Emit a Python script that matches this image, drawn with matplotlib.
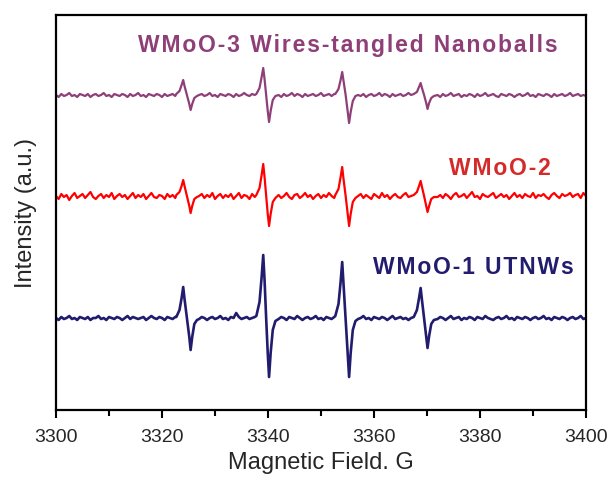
import matplotlib
matplotlib.use("Agg")
import matplotlib.pyplot as plt
from matplotlib.ticker import MultipleLocator

# Field axis (G), shared by all three spectra: baseline stretches plus
# denser points through each of the four hyperfine lines
FIELD = (
    [3300, 3300.5, 3301, 3301.5, 3302, 3302.5, 3303, 3303.5, 3304, 3304.5,
     3305, 3305.5, 3306, 3306.5, 3307, 3307.5, 3308, 3308.5, 3309, 3309.5,
     3310, 3310.5, 3311, 3311.5, 3312, 3312.5, 3313, 3313.5, 3314, 3314.5,
     3315, 3315.5, 3316, 3316.5, 3317, 3317.5, 3318, 3318.5, 3319, 3319.5,
     3320, 3320.5, 3321, 3321.5, 3322, 3322.5]
    + [3322.7, 3323.3, 3323.7, 3324.0, 3324.25, 3324.7, 3325.15, 3325.4,
       3325.7, 3326.1, 3326.6]
    + [3327, 3327.5, 3328, 3328.5, 3329, 3329.5, 3330, 3330.5, 3331, 3331.5,
       3332, 3332.5, 3333, 3333.5, 3334, 3334.5, 3335, 3335.5, 3336, 3336.5,
       3337, 3337.5]
    + [3337.8, 3338.4, 3338.8, 3339.1, 3339.35, 3339.65, 3339.95, 3340.2,
       3340.5, 3340.9, 3341.4]
    + [3342, 3342.5, 3343, 3343.5, 3344, 3344.5, 3345, 3345.5, 3346, 3346.5,
       3347, 3347.5, 3348, 3348.5, 3349, 3349.5, 3350, 3350.5, 3351, 3351.5,
       3352, 3352.5]
    + [3352.7, 3353.3, 3353.7, 3354.0, 3354.25, 3354.65, 3355.05, 3355.3,
       3355.6, 3356.0, 3356.5]
    + [3357, 3357.5, 3358, 3358.5, 3359, 3359.5, 3360, 3360.5, 3361, 3361.5,
       3362, 3362.5, 3363, 3363.5, 3364, 3364.5, 3365, 3365.5, 3366, 3366.5,
       3367]
    + [3367.5, 3368.1, 3368.5, 3368.8, 3369.05, 3369.45, 3369.85, 3370.1,
       3370.4, 3370.8, 3371.3]
    + [3372, 3372.5, 3373, 3373.5, 3374, 3374.5, 3375, 3375.5, 3376, 3376.5,
       3377, 3377.5, 3378, 3378.5, 3379, 3379.5, 3380, 3380.5, 3381, 3381.5,
       3382, 3382.5, 3383, 3383.5, 3384, 3384.5, 3385, 3385.5, 3386, 3386.5,
       3387, 3387.5, 3388, 3388.5, 3389, 3389.5, 3390, 3390.5, 3391, 3391.5,
       3392, 3392.5, 3393, 3393.5, 3394, 3394.5, 3395, 3395.5, 3396, 3396.5,
       3397, 3397.5, 3398, 3398.5, 3399, 3399.5, 3400]
)

# WMoO-1 UTNWs (stacked, arbitrary units)
WMOO1 = (
    [92, 90, 93, 91, 92, 94, 91, 92, 90, 93, 92, 91, 93, 90, 92, 92, 94, 91,
     92, 90, 93, 92, 91, 93, 92, 90, 92, 94, 91, 93, 92, 91, 92, 93, 90, 92,
     94, 92, 91, 93, 92, 90, 93, 92, 91, 93]
    + [93, 100, 112, 123, 111, 92, 73, 60, 73, 86, 90]
    + [91, 93, 92, 90, 92, 93, 91, 92, 94, 91, 92, 90, 93, 92, 97, 93, 91, 92,
       93, 91, 92, 93]
    + [94, 108, 133, 155, 130, 92, 57, 33, 57, 80, 89]
    + [91, 93, 92, 90, 93, 92, 91, 94, 92, 90, 92, 93, 91, 92, 94, 91, 92, 90,
       93, 92, 91, 93]
    + [94, 106, 128, 148, 126, 92, 57, 33, 57, 80, 89]
    + [91, 92, 94, 91, 92, 90, 93, 92, 91, 93, 92, 90, 92, 94, 91, 92, 93, 91,
       92, 90, 92]
    + [93, 100, 112, 122, 110, 92, 74, 62, 74, 86, 90]
    + [91, 93, 92, 90, 92, 94, 91, 92, 93, 90, 92, 91, 93, 92, 90, 93, 92, 91,
       94, 92, 91, 90, 92, 93, 91, 92, 94, 91, 92, 90, 93, 92, 91, 93, 92, 90,
       92, 93, 91, 92, 94, 91, 92, 90, 93, 92, 91, 93, 92, 90, 92, 93, 91, 92,
       94, 91, 92]
)

# WMoO-2
WMOO2 = (
    [214, 211, 216, 213, 215, 210, 214, 217, 212, 214, 216, 212, 215, 218,
     213, 211, 214, 216, 212, 215, 213, 217, 211, 214, 216, 213, 215, 211,
     214, 217, 212, 215, 213, 216, 211, 214, 217, 213, 212, 215, 214, 211,
     216, 213, 215, 212]
    + [215, 218, 224, 230, 224, 214, 204, 197, 204, 211, 213]
    + [214, 216, 212, 215, 213, 217, 211, 214, 216, 212, 215, 213, 216, 211,
       214, 217, 212, 215, 214, 211, 216, 213]
    + [215, 222, 235, 246, 233, 214, 196, 184, 196, 208, 212]
    + [215, 212, 214, 217, 213, 211, 215, 216, 212, 214, 217, 213, 215, 211,
       214, 216, 212, 215, 213, 217, 214, 212]
    + [215, 221, 233, 243, 231, 214, 196, 184, 196, 208, 212]
    + [214, 216, 212, 215, 213, 211, 216, 214, 212, 217, 213, 215, 211, 214,
       216, 213, 212, 215, 217, 213, 214]
    + [215, 218, 224, 229, 223, 214, 204, 198, 204, 211, 213]
    + [213, 215, 212, 216, 214, 211, 215, 217, 213, 214, 216, 212, 215, 218,
       213, 214, 211, 216, 214, 213, 215, 217, 212, 214, 216, 213, 215, 211,
       214, 217, 213, 215, 212, 216, 214, 213, 217, 212, 215, 214, 216, 213,
       211, 215, 217, 214, 212, 216, 214, 215, 217, 213, 215, 216, 212, 217,
       214]
)

# WMoO-3 Wires-tangled Nanoballs
WMOO3 = (
    [315, 313, 316, 314, 315, 317, 314, 315, 313, 316, 315, 314, 316, 313,
     315, 316, 314, 315, 317, 314, 315, 313, 316, 315, 314, 316, 315, 313,
     316, 314, 315, 317, 314, 315, 313, 316, 315, 314, 316, 315, 313, 316,
     314, 315, 316, 314]
    + [316, 319, 325, 330, 324, 315, 306, 300, 306, 312, 314]
    + [315, 316, 314, 315, 317, 314, 315, 313, 316, 315, 314, 316, 315, 313,
       316, 314, 315, 317, 315, 314, 316, 315]
    + [316, 322, 333, 342, 331, 315, 299, 288, 299, 310, 314]
    + [315, 313, 316, 314, 315, 317, 314, 316, 315, 313, 316, 314, 315, 316,
       314, 315, 317, 314, 315, 316, 314, 316]
    + [316, 321, 330, 338, 329, 315, 298, 287, 298, 309, 314]
    + [315, 314, 316, 313, 315, 316, 314, 315, 317, 314, 316, 315, 313, 316,
       314, 315, 316, 314, 315, 317, 315]
    + [316, 318, 323, 327, 322, 315, 307, 301, 307, 312, 314]
    + [315, 313, 316, 314, 315, 317, 314, 315, 316, 313, 315, 314, 316, 315,
       313, 316, 314, 315, 317, 314, 315, 316, 314, 313, 316, 315, 314, 316,
       315, 313, 315, 316, 314, 315, 317, 314, 315, 313, 316, 315, 314, 316,
       315, 313, 316, 314, 315, 316, 314, 315, 317, 314, 315, 316, 314, 315,
       314]
)

LABELS = ["WMoO-1 UTNWs", "WMoO-2", "WMoO-3 Wires-tangled Nanoballs"]

NAVY = "#221c6e"
RED_LINE = "#ff0000"
RED_TEXT = "#d42a2a"
PURPLE = "#8e3f78"
GREY_TEXT = "#262626"

plt.rcParams["font.family"] = ["Liberation Sans", "DejaVu Sans"]


def tracked(s: str) -> str:
    # the original labels are set with loose letter spacing
    return "\u200a".join(s)


fig = plt.figure(figsize=(6.11, 4.79), dpi=100)
ax = fig.add_axes([56 / 611, 1 - 410 / 479, 530 / 611, 395 / 479])

ax.plot(FIELD, WMOO1, color=NAVY, lw=1.9)
ax.plot(FIELD, WMOO2, color=RED_LINE, lw=1.6)
ax.plot(FIELD, WMOO3, color=PURPLE, lw=1.6)

ax.set_xlim(3300, 3400)
ax.set_ylim(0, 395)
ax.set_yticks([])
ax.xaxis.set_major_locator(MultipleLocator(20))
ax.xaxis.set_minor_locator(MultipleLocator(10))
ax.tick_params(axis="x", which="major", direction="out", length=6, width=1.5,
               labelsize=14, pad=8, labelcolor=GREY_TEXT)
ax.tick_params(axis="x", which="minor", direction="out", length=4, width=1.5)
for sp in ax.spines.values():
    sp.set_linewidth(1.6)

ax.set_xlabel("Magnetic Field. G", fontsize=17, color=GREY_TEXT, labelpad=4)
ax.set_ylabel("Intensity (a.u.)", fontsize=17, color=GREY_TEXT, labelpad=14)

ax.text(3378.8, 143, tracked(LABELS[0]), color=NAVY, fontsize=16.5,
        fontweight="bold", ha="center", va="center")
ax.text(3383.7, 242, tracked(LABELS[1]), color=RED_TEXT, fontsize=16.5,
        fontweight="bold", ha="center", va="center")
ax.text(3355.0, 365, tracked(LABELS[2]), color=PURPLE, fontsize=16.5,
        fontweight="bold", ha="center", va="center")

fig.savefig("out.png", dpi=100)
